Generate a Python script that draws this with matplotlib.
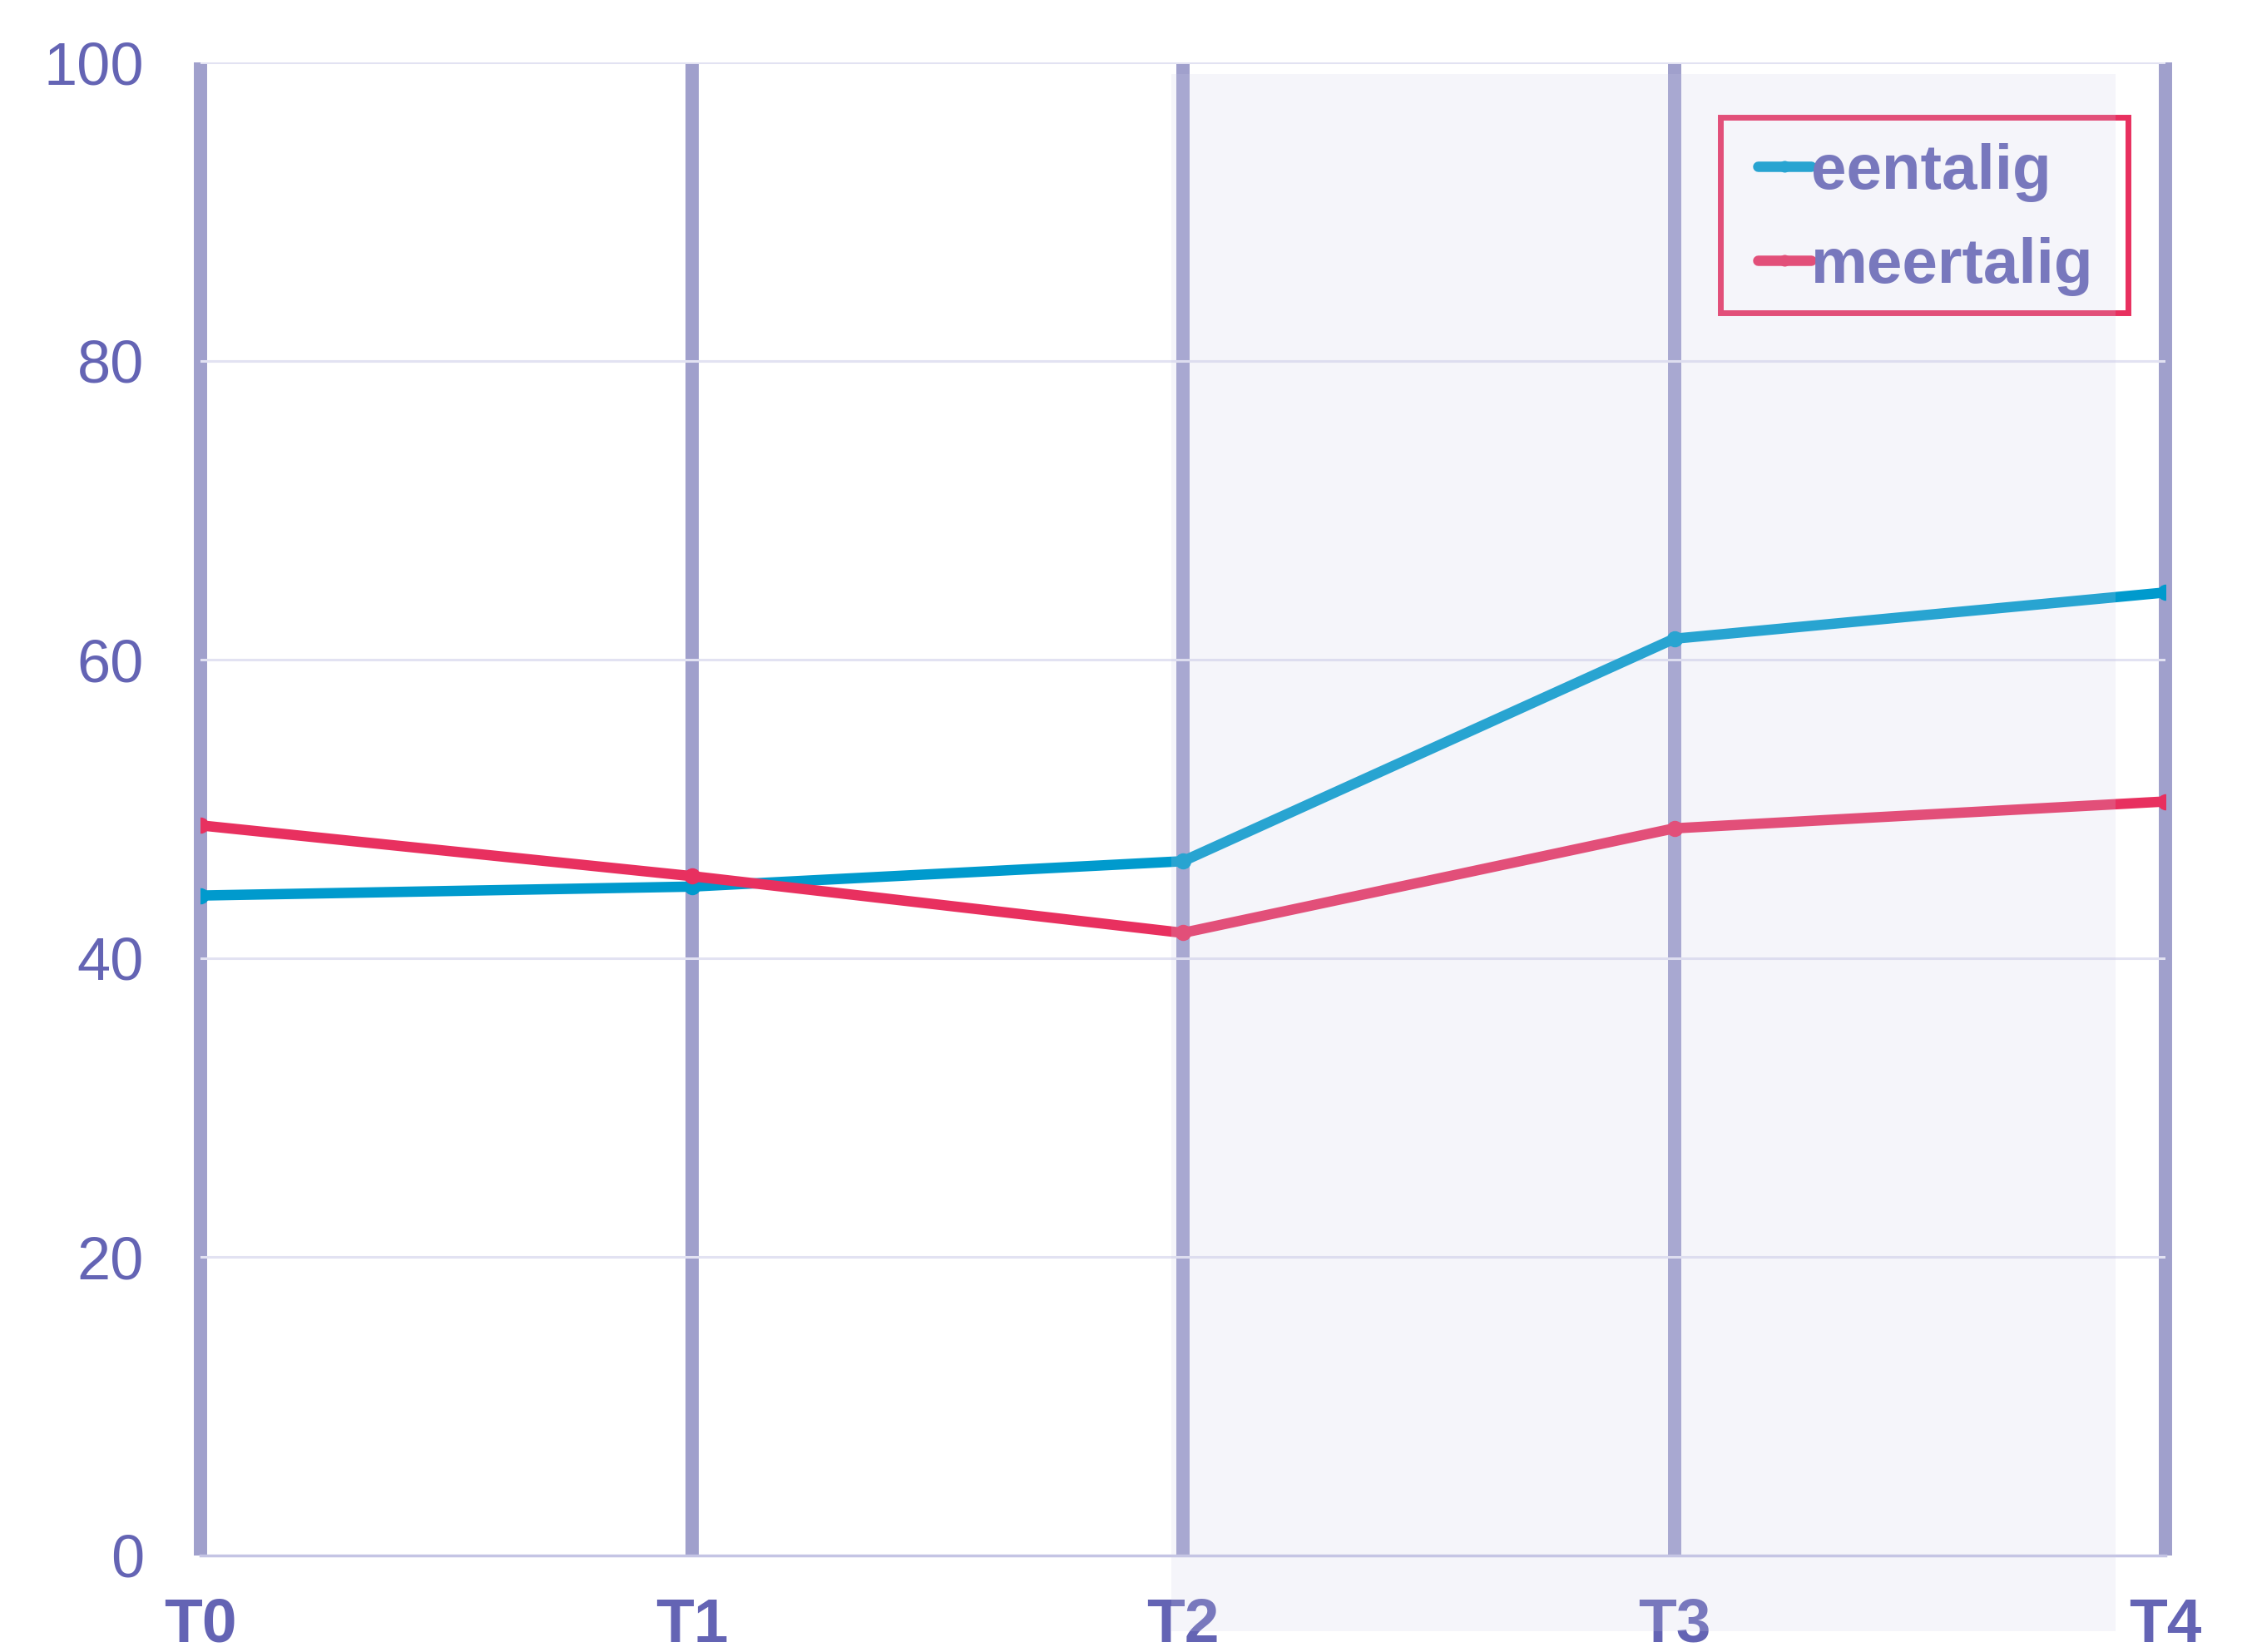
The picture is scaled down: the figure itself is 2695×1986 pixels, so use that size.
import matplotlib
matplotlib.use('Agg')
import matplotlib.pyplot as plt
from matplotlib.patches import Rectangle

plt.rcParams['font.family'] = ['Liberation Sans', 'DejaVu Sans']

# data
categories = ['T0', 'T1', 'T2', 'T3', 'T4']
eentalig = [44.2, 44.8, 46.5, 61.4, 64.5]
meertalig = [48.9, 45.5, 41.7, 48.7, 50.5]
yticks = [0, 20, 40, 60, 80, 100]

BLUE = '#009acd'
RED = '#e8305f'
TEXT = '#6464b4'

W, H = 2695, 1986
fig = plt.figure(figsize=(W / 100, H / 100), dpi=100)
ax = fig.add_axes([241 / W, 1 - 1870 / H, (2603 - 241) / W, (1870 - 75) / H])

x = range(len(categories))
ax.plot(x, eentalig, color=BLUE, lw=9, marker='o', ms=13,
        solid_capstyle='round', label='eentalig', zorder=3)
ax.plot(x, meertalig, color=RED, lw=9, marker='o', ms=13,
        solid_capstyle='round', label='meertalig', zorder=3)

ax.set_xlim(0, len(categories) - 1)
ax.set_ylim(0, 100)
ax.set_xticks(list(x))
ax.set_xticklabels(categories, fontsize=54, fontweight='bold', color=TEXT)
ax.set_yticks(yticks)
ax.set_yticklabels([str(v) for v in yticks], fontsize=52, color=TEXT)
ax.tick_params(axis='x', length=0, pad=36)
ax.tick_params(axis='y', length=0, pad=49)

ax.set_axisbelow(True)
ax.grid(axis='x', color='#a0a0cc', lw=11.5)
ax.grid(axis='y', color='#e2e2f2', lw=2.2)
for gl in ax.get_xgridlines():
    gl.set_clip_on(False)
    gl.set_solid_capstyle('butt')

for s in ['left', 'right', 'top']:
    ax.spines[s].set_visible(False)
ax.spines['bottom'].set_color('#c4c4e4')
ax.spines['bottom'].set_linewidth(2.5)

# legend frame drawn separately so the padding can differ per side
ax.add_artist(Rectangle((2068 / W, 1 - 376 / H), (2558 - 2068) / W, (376 - 141) / H,
                        transform=fig.transFigure, facecolor='white',
                        edgecolor=RED, lw=5, zorder=4, clip_on=False))
leg = ax.legend(loc='upper left', bbox_to_anchor=(2113 / W, 1 - 172 / H),
                bbox_transform=fig.transFigure, borderaxespad=0, frameon=False,
                prop={'weight': 'bold', 'size': 55},
                handlelength=0.84, handletextpad=0.0, borderpad=0,
                labelspacing=0.55, numpoints=1, markerscale=0.7)
leg.set_zorder(5)
for t in leg.get_texts():
    t.set_color(TEXT)

# translucent highlight band over the right part
fig.add_artist(Rectangle((1408 / W, 1 - 1961 / H), (2543 - 1408) / W, (1961 - 89) / H,
                         transform=fig.transFigure, facecolor='#cdcde6',
                         edgecolor='none', alpha=0.2, zorder=10))

fig.savefig('out.png', dpi=100)
